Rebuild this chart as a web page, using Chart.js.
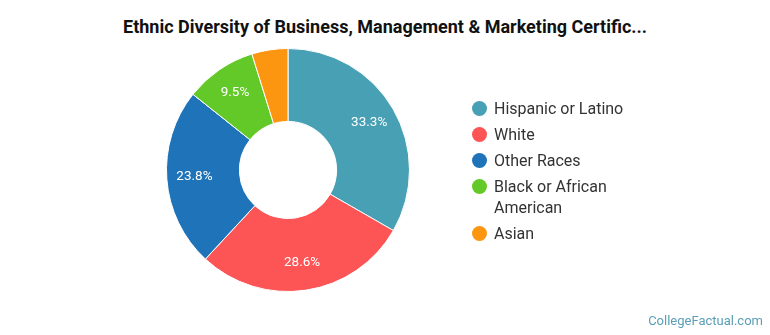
<!DOCTYPE html>
<html>
<head>
<meta charset="utf-8">
<script src="https://cdn.jsdelivr.net/npm/chart.js@4"></script>
<style>
    body { margin: 0; background: #fff; }
    #root { position: relative; width: 770px; height: 335px; font-family: Roboto, sans-serif; }
    #title { position: absolute; left: 0; top: 16px; width: 770px; text-align: center; font-weight: bold; font-size: 18px; color: #111; }
    #myChart { position: absolute; left: 0; top: 0; }
    #legend { position: absolute; left: 472px; top: 98px; width: 170px; font-size: 16px; color: #333; }
    .item { position: relative; padding-left: 22px; width: 140px; line-height: 21px; margin-bottom: 5px; }
    .dot { position: absolute; left: 0; top: 3px; width: 15px; height: 15px; border-radius: 50%; }
    #brand { position: absolute; right: 7px; top: 313px; font-size: 13px; color: #5a9fb5; }
</style>
</head>
<body>
<div id="root">
    <div id="title">Ethnic Diversity of Business, Management &amp; Marketing Certific...</div>
    <canvas id="myChart" width="770" height="335"></canvas>
    <div id="legend"></div>
    <div id="brand">CollegeFactual.com</div>
</div>
<script>
const labels = ['Hispanic or Latino', 'White', 'Other Races', 'Black or African American', 'Asian'];
const shares = [33.3, 28.6, 23.8, 9.5, 4.8];
const colors = ['#48a0b4', '#fd5455', '#1f73b9', '#63c928', '#fc9510'];

// legend
const legend = document.getElementById('legend');
for (let i = 0; i < labels.length; i++) {
    const el = document.createElement('div');
    el.className = 'item';
    el.innerHTML = '<span class="dot" style="background:' + colors[i] + '"></span>' + labels[i];
    legend.appendChild(el);
}

// percent labels inside the slices, a bit outside the ring's middle
const sliceLabels = {
    id: 'sliceLabels',
    afterDatasetsDraw(chart) {
        const ctx = chart.ctx;
        const arcs = chart.getDatasetMeta(0).data;
        ctx.save();
        ctx.font = '13.5px Roboto, sans-serif';
        ctx.fillStyle = '#fff';
        ctx.textAlign = 'center';
        ctx.textBaseline = 'middle';
        for (let i = 0; i < arcs.length; i++) {
            if (shares[i] < 5) continue;
            const a = arcs[i];
            const mid = (a.startAngle + a.endAngle) / 2;
            const r = a.innerRadius + 0.62 * (a.outerRadius - a.innerRadius);
            ctx.fillText(shares[i].toFixed(1) + '%', a.x + Math.cos(mid) * r, a.y + Math.sin(mid) * r);
        }
        ctx.restore();
    }
};

const ctx = document.getElementById('myChart').getContext('2d');
new Chart(ctx, {
    type: 'doughnut',
    data: {
        labels: labels,
        datasets: [{
            data: shares,
            backgroundColor: colors,
            borderColor: '#fff',
            borderWidth: 1
        }]
    },
    options: {
        responsive: false,
        animation: false,
        cutout: '40%',
        layout: { padding: { top: 48, bottom: 43, left: 166, right: 360 } },
        plugins: {
            legend: { display: false },
            tooltip: { enabled: false }
        }
    },
    plugins: [sliceLabels]
});
</script>
</body>
</html>
